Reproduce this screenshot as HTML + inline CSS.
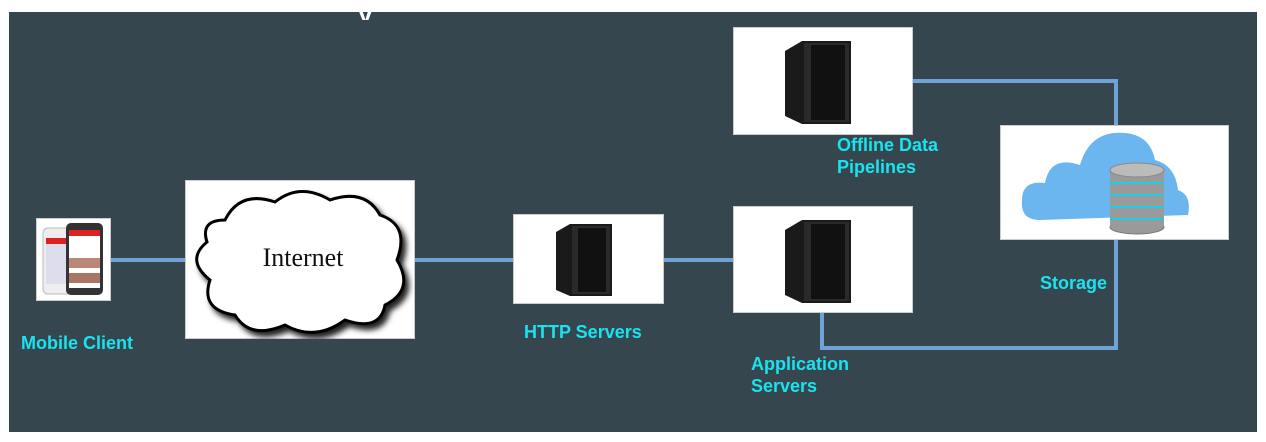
<!DOCTYPE html>
<html><head><style>
body{margin:0;width:1266px;height:442px;background:#fff;position:relative;overflow:hidden;font-family:"Liberation Sans",Arial,sans-serif}
#bg{position:absolute;left:9px;top:12px;width:1248px;height:420px;background:#36464f}
.b{position:absolute;background:#fff;border:1px solid #ccc;box-sizing:border-box}
.l{position:absolute;background:#6fa3d8}
.t{position:absolute;color:#19e3ee;font-weight:bold;font-size:18px;line-height:22px;white-space:nowrap}
svg{position:absolute}
</style></head><body>
<div id="bg"></div>
<div style="position:absolute;left:358px;top:4px;color:#fff;font-weight:bold;font-size:26px;line-height:20px;height:16px;overflow:hidden">y</div>
<div class="l" style="left:111px;top:258px;width:622px;height:4px"></div>
<div class="l" style="left:913px;top:79px;width:205px;height:4px"></div>
<div class="l" style="left:1114px;top:79px;width:4px;height:47px"></div>
<div class="l" style="left:1114px;top:240px;width:4px;height:110px"></div>
<div class="l" style="left:820px;top:346px;width:298px;height:4px"></div>
<div class="l" style="left:820px;top:313px;width:4px;height:37px"></div>
<div class="b" style="left:36px;top:218px;width:75px;height:83px"></div>
<svg style="left:36px;top:218px" width="75" height="83">
<rect x="7" y="10" width="30" height="66" rx="5" fill="#eee" stroke="#bbb"/>
<rect x="10" y="20" width="24" height="46" fill="#dde"/>
<rect x="10" y="20" width="24" height="6" fill="#d22"/>
<rect x="30" y="5" width="37" height="72" rx="5" fill="#333"/>
<rect x="33" y="12" width="31" height="58" fill="#fff"/>
<rect x="33" y="12" width="31" height="6" fill="#d22"/>
<rect x="33" y="40" width="31" height="10" fill="#b87"/>
<rect x="33" y="55" width="31" height="10" fill="#a76"/>
</svg>
<div class="b" style="left:185px;top:180px;width:230px;height:159px"></div>
<svg style="left:185px;top:180px" width="230" height="159">
<path d="M40 40 Q55 10 90 22 Q115 2 145 20 Q180 8 195 35 Q225 45 212 80 Q230 110 200 125 Q195 152 160 140 Q130 162 100 145 Q65 160 50 135 Q15 130 25 100 Q0 80 22 62 Q15 40 40 40Z" fill="#fff" stroke="#000" stroke-width="3" style="filter:drop-shadow(4px 5px 3px #222)"/>
<text x="118" y="86" text-anchor="middle" font-family="Liberation Serif,serif" font-size="26" fill="#111">Internet</text>
</svg>
<div class="b" style="left:513px;top:214px;width:151px;height:90px"></div>
<div class="b" style="left:733px;top:206px;width:180px;height:107px"></div>
<div class="b" style="left:733px;top:27px;width:180px;height:108px"></div>
<svg style="left:556px;top:224px" width="56" height="72"><polygon points="0,8 14,0 56,0 56,72 14,72 0,66" fill="#1a1a1a"/><rect x="16" y="2" width="38" height="68" fill="#2a2a2a"/><rect x="22" y="4" width="28" height="64" fill="#111"/></svg>
<svg style="left:785px;top:220px" width="66" height="83"><polygon points="0,10 17,0 66,0 66,83 17,83 0,75" fill="#1a1a1a"/><rect x="19" y="2" width="45" height="79" fill="#2a2a2a"/><rect x="26" y="4" width="34" height="75" fill="#111"/></svg>
<svg style="left:785px;top:41px" width="66" height="83"><polygon points="0,10 17,0 66,0 66,83 17,83 0,75" fill="#1a1a1a"/><rect x="19" y="2" width="45" height="79" fill="#2a2a2a"/><rect x="26" y="4" width="34" height="75" fill="#111"/></svg>
<div class="b" style="left:1000px;top:125px;width:229px;height:115px"></div>
<svg style="left:1000px;top:125px" width="229" height="115">
<path d="M40 95 Q20 95 22 75 Q22 55 45 58 Q50 30 80 40 Q90 5 125 8 Q150 10 155 35 Q175 40 178 65 Q192 70 188 90 L40 95Z" fill="#6bb6ef"/>
<g fill="#9a9a9a" stroke="#777">
<ellipse cx="137" cy="102" rx="27" ry="7"/><rect x="110" y="45" width="54" height="57" stroke="none"/>
</g>
<g stroke="#19d0ea" stroke-width="2"><line x1="110" y1="58" x2="164" y2="58"/><line x1="110" y1="70" x2="164" y2="70"/><line x1="110" y1="82" x2="164" y2="82"/><line x1="110" y1="94" x2="164" y2="94"/></g>
<ellipse cx="137" cy="45" rx="27" ry="7" fill="#bbb" stroke="#888"/>
</svg>
<div class="t" style="left:21px;top:332px">Mobile Client</div>
<div class="t" style="left:524px;top:321px">HTTP Servers</div>
<div class="t" style="left:837px;top:134px">Offline Data<br>Pipelines</div>
<div class="t" style="left:1040px;top:272px">Storage</div>
<div class="t" style="left:751px;top:353px">Application<br>Servers</div>
</body></html>
